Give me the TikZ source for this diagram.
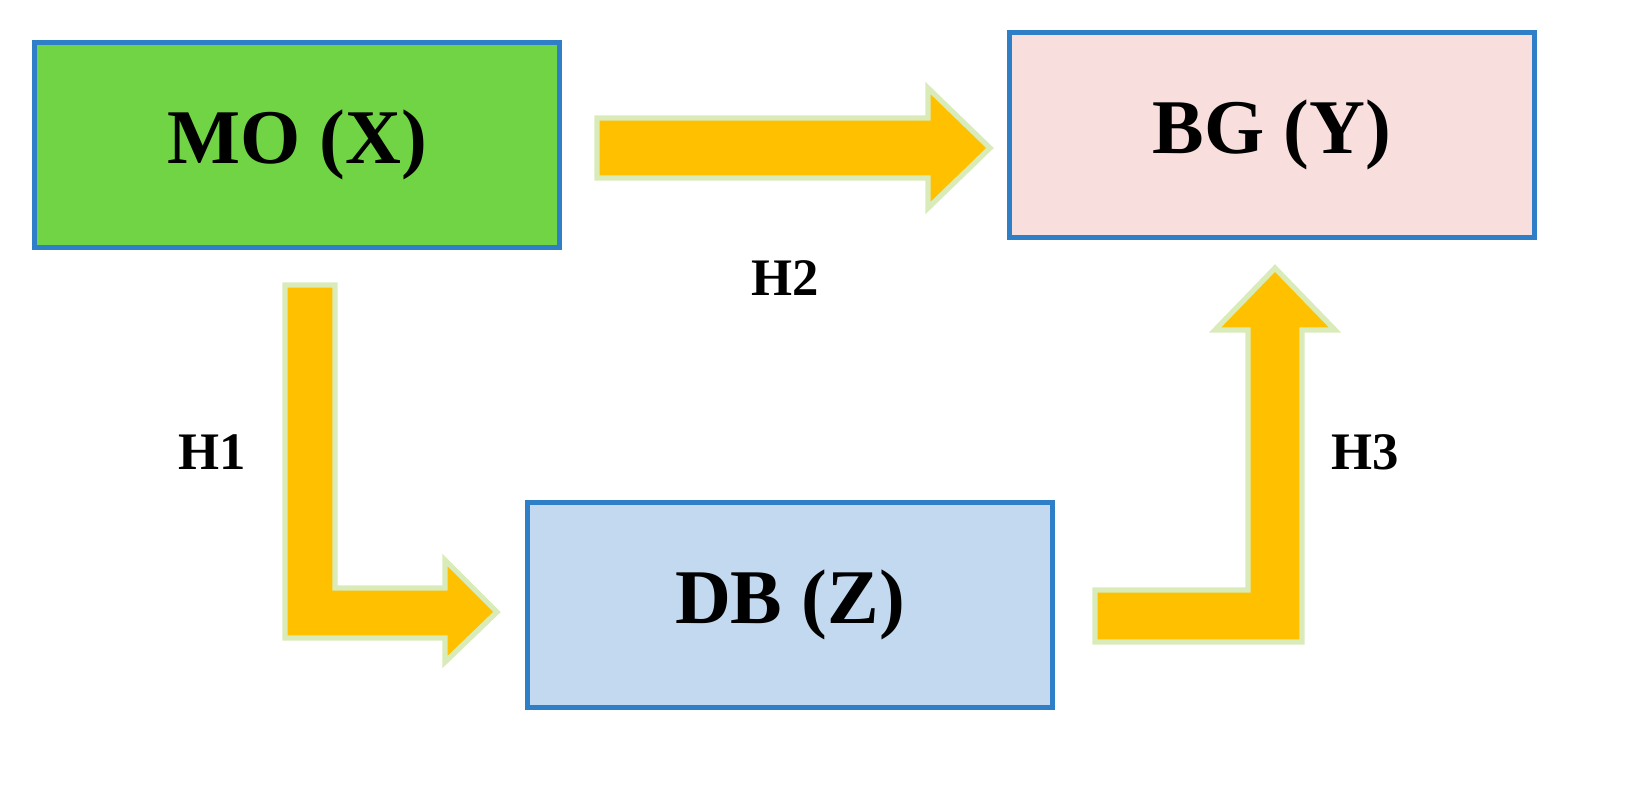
\documentclass[tikz,border=0pt]{standalone}
\usepackage{fontspec}
\setmainfont{Liberation Serif}
\definecolor{moGreen}{HTML}{70D444}
\definecolor{bgPink}{HTML}{F9DEDE}
\definecolor{dbBlue}{HTML}{C2D9F0}
\definecolor{boxLine}{HTML}{2F7FC8}
\definecolor{arrOrange}{HTML}{FFC000}
\definecolor{arrEdge}{HTML}{D8EBB8}
\begin{document}
\begin{tikzpicture}[x=0.01cm,y=-0.01cm,
	box/.style={
		rectangle,
		draw=boxLine,
		line width=1.5pt,
		minimum width=5.25cm,
		minimum height=2.05cm,
		font=\fontsize{22}{26}\selectfont\bfseries
	},
	blockarrow/.style={
		fill=arrOrange,
		draw=arrEdge,
		line width=1.5pt
	},
	hlabel/.style={font=\fontsize{15}{18}\selectfont\bfseries}
]
\useasboundingbox (0,0) rectangle (1645,790);

%% Boxes %%
\node[box, fill=moGreen] (mo) at (297,145) {MO (X)};
\node[box, fill=bgPink] (bg) at (1272,135) {BG (Y)};
\node[box, fill=dbBlue] (db) at (790,605) {DB (Z)};

%% Arrows %%
% H2 %
\draw[blockarrow] (597,118) -- (928,118) -- (928,88) -- (990,148) -- (928,208)
	-- (928,178) -- (597,178) -- cycle;
% H1 %
\draw[blockarrow] (285,285) -- (335,285) -- (335,588) -- (445,588) -- (445,560)
	-- (497,612) -- (445,662) -- (445,638) -- (285,638) -- cycle;
% H3 %
\draw[blockarrow] (1095,590) -- (1248,590) -- (1248,330) -- (1215,330) -- (1275,268)
	-- (1335,330) -- (1302,330) -- (1302,642) -- (1095,642) -- cycle;

%% Labels %%
\node[hlabel] (h1) at (212,452) {H1};
\node[hlabel] (h2) at (785,278) {H2};
\node[hlabel] (h3) at (1365,452) {H3};
\end{tikzpicture}
\end{document}
